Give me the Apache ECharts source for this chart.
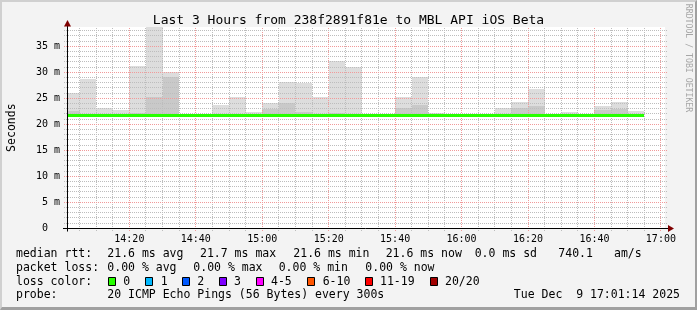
<!DOCTYPE html>
<html><head><meta charset="utf-8">
<script src="https://cdn.jsdelivr.net/npm/echarts@6/dist/echarts.min.js"></script>
<style>
html,body{margin:0;padding:0;background:#f3f3f3;}
#wrap{position:relative;width:697px;height:310px;}
#c{position:absolute;left:0;top:0;width:697px;height:310px;}
#frame{position:absolute;left:0;top:0;width:697px;height:310px;box-sizing:border-box;border-top:2px solid #d0d0d0;border-left:2px solid #d0d0d0;border-right:2px solid #a0a0a0;border-bottom:3px solid #a0a0a0;pointer-events:none;}
</style></head><body>
<div id="wrap"><div id="c"></div><div id="frame"></div></div>
<script>
// ---------------- data ----------------
const titleText = "Last 3 Hours from 238f2891f81e to MBL API iOS Beta";
const axisStart = "14:01:14";
const axisEnd = "17:01:14";
const stepMinutes = 5;
const barStart = ["14:00","14:05","14:10","14:15","14:20","14:25","14:30","14:35","14:40","14:45",
  "14:50","14:55","15:00","15:05","15:10","15:15","15:20","15:25","15:30","15:35",
  "15:40","15:45","15:50","15:55","16:00","16:05","16:10","16:15","16:20","16:25",
  "16:30","16:35","16:40","16:45","16:50"];
// smoke (ms): min, darker inner band top, max
const smokeMin = [21.4,21.4,21.4,21.4,21.4,21.4,21.4,21.4,21.4,21.4,
  21.4,21.4,21.4,21.4,21.4,21.4,21.4,21.4,21.4,21.4,
  21.4,21.4,21.4,21.4,21.4,21.4,21.4,21.4,21.4,21.4,
  21.4,21.4,21.4,21.4,21.4];
const smokeMid = [22.6,22.0,21.9,21.9,22.2,25.2,29.0,21.7,21.7,22.0,
  22.0,21.9,22.9,24.0,22.4,22.0,22.2,22.0,21.7,21.7,
  23.1,23.8,21.9,21.7,21.7,21.7,22.0,23.2,23.6,21.7,
  21.9,21.7,22.7,22.9,21.9];
const smokeMax = [26.0,28.7,23.1,22.75,31.2,38.65,30.0,21.8,21.8,23.7,
  25.25,22.3,24.0,28.1,28.0,25.25,32.2,31.0,21.8,21.8,
  25.25,29.1,22.2,21.8,21.8,21.8,23.2,24.3,26.85,21.8,
  22.3,21.8,23.5,24.35,22.55];
const medianRtt = [21.7,21.6,21.7,21.6,21.6,21.7,21.6,21.6,21.7,21.6,
  21.6,21.6,21.6,21.6,21.7,21.6,21.6,21.6,21.6,21.6,
  21.6,21.7,21.6,21.7,21.6,21.7,21.6,21.6,21.6,21.6,
  21.6,21.7,21.6,21.7,21.6];
const yMax = 38.7;
const yMajorStep = 5, yMinorStep = 1;
const xMajorTicks = ["14:20","14:40","15:00","15:20","15:40","16:00","16:20","16:40","17:00"];
const lossLabels = ["0","1","2","3","4-5","6-10","11-19","20/20"];
const lossColors = ["#26ff00","#00b8ff","#0059ff","#7e00ff","#ff00ff","#ff5500","#ff0000","#a10000"];
const rttStats = ["21.6 ms avg","21.7 ms max","21.6 ms min","21.6 ms now","0.0 ms sd","740.1","am/s"];
const lossStats = ["0.00 % avg","0.00 % max","0.00 % min","0.00 % now"];
const probeText = "20 ICMP Echo Pings (56 Bytes) every 300s";
const dateText = "Tue Dec  9 17:01:14 2025";
const rightText = "RRDTOOL / TOBI OETIKER";

// ---------------- helpers ----------------
const FONT = "DejaVu Sans Mono";
function toMin(s){const p=s.split(':').map(Number);return p[0]*60+p[1]+(p[2]||0)/60;}
function fmtHM(v){const m=Math.round(v);const h=Math.floor(m/60),mm=m%60;return h+':'+(mm<10?'0':'')+mm;}
const X_MIN = toMin(axisStart), X_MAX = toMin(axisEnd);
const majorVals = xMajorTicks.map(toMin);
const minorVals = [];
for (let t = Math.ceil(X_MIN/stepMinutes)*stepMinutes; t <= X_MAX; t += stepMinutes) minorVals.push(t);

const GRID = {left:67, top:27, width:598, height:201.3};
const MINOR = '#bdbdbd', MAJOR = '#f19a9a';

// vertical grid: [t, isMajor]; horizontal grid: [v, isMajor]
const vGrid = [], hGrid = [];
minorVals.forEach(t=>{ if (majorVals.indexOf(t)<0) vGrid.push([t, 0]); });
majorVals.forEach(t=>vGrid.push([t, 1]));
for (let v=yMinorStep; v<yMax; v+=yMinorStep){ if (v%yMajorStep!==0) hGrid.push([v, 0]); }
for (let v=yMajorStep; v<yMax; v+=yMajorStep) hGrid.push([v, 1]);

function vGridSeries(){
  return {
    type:'custom', name:'vgrid', z:4, clip:false, silent:true,
    encode:{x:0},
    renderItem:(params, api)=>{
      const t = api.value(0);
      const a = api.coord([t, 0]);
      const b = api.coord([t, yMax]);
      const x = Math.floor(a[0]) + 0.5;
      return {type:'polyline', shape:{points:[[x, Math.round(a[1])+3],[x, Math.round(b[1])]]},
        style:{stroke: api.value(1)===1?MAJOR:MINOR, lineWidth:1, lineDash:[1,1], fill:null}};
    },
    data: vGrid
  };
}
function hGridSeries(){
  return {
    type:'custom', name:'hgrid', z:4, clip:false, silent:true,
    encode:{y:0},
    renderItem:(params, api)=>{
      const v = api.value(0);
      const a = api.coord([X_MIN, v]);
      const b = api.coord([X_MAX, v]);
      const y = Math.floor(a[1]) + 0.5;
      return {type:'polyline', shape:{points:[[Math.round(a[0])-3, y],[Math.round(b[0])+3, y]]},
        style:{stroke: api.value(1)===1?MAJOR:MINOR, lineWidth:1, lineDash:[1,1], fill:null}};
    },
    data: hGrid
  };
}

function bandSeries(name, lo, hi, color, z){
  return {
    type:'custom', name, z, clip:true, silent:true,
    renderItem:(params, api)=>{
      const a = api.coord([api.value(0), api.value(3)]);
      const b = api.coord([api.value(1), api.value(2)]);
      const cs = params.coordSys;
      const x0=Math.round(a[0]), x1=Math.round(b[0]), y0=Math.round(a[1]), y1=Math.round(b[1]);
      const r = echarts.graphic.clipRectByRect({x:x0,y:y0,width:x1-x0,height:y1-y0},
        {x:cs.x,y:cs.y,width:cs.width,height:cs.height});
      if (!r) return null;
      return {type:'rect', shape:r, style:{fill:color}};
    },
    data: barStart.map((s,i)=>[toMin(s), toMin(s)+stepMinutes, lo[i], hi[i]])
  };
}
function medianSeries(){
  return {
    type:'custom', name:'median', z:10, clip:true, silent:true,
    renderItem:(params, api)=>{
      const a = api.coord([api.value(0), api.value(2)]);
      const b = api.coord([api.value(1), api.value(2)]);
      const cs = params.coordSys;
      const x0=Math.round(a[0]), x1=Math.round(b[0]), y0=Math.round(a[1]-1.5);
      const r = echarts.graphic.clipRectByRect({x:x0,y:y0,width:x1-x0,height:3},
        {x:cs.x,y:cs.y,width:cs.width,height:cs.height});
      if (!r) return null;
      return {type:'rect', shape:r, style:{fill:lossColors[0]}};
    },
    data: barStart.map((s,i)=>[toMin(s), toMin(s)+stepMinutes, medianRtt[i]])
  };
}

// ---------------- graphics ----------------
const g = [];
const AX = GRID.left + 0.5, AY = Math.round(GRID.top + GRID.height) + 0.5;
g.push({type:'line', z:20, shape:{x1:AX, y1:AY+3, x2:AX, y2:22}, style:{stroke:'#000', lineWidth:1}});
g.push({type:'line', z:20, shape:{x1:GRID.left-4, y1:AY, x2:GRID.left+GRID.width+3, y2:AY}, style:{stroke:'#000', lineWidth:1}});
g.push({type:'polygon', z:21, shape:{points:[[AX-3.5,26.5],[AX+3.5,26.5],[AX,20]]}, style:{fill:'#7f0000'}});
const XE = GRID.left+GRID.width+3;
g.push({type:'polygon', z:21, shape:{points:[[XE,AY-3.5],[XE,AY+3.5],[XE+6,AY]]}, style:{fill:'#7f0000'}});
g.push({type:'text', z:20, x:688, y:58, rotation:-Math.PI/2,
  style:{text:rightText, font:'8.2px "'+FONT+'"', fill:'#a6a6a6', align:'center', verticalAlign:'middle'}});
function txt(x,y,s,align){ g.push({type:'text', z:20, x, y, style:{text:s, font:'11.5px "'+FONT+'"', fill:'#000', align:align||'left', verticalAlign:'middle'}}); }
const L1=254.3, L2=267.8, L3=281.6, L4=295.3;
txt(16,L1,"median rtt:");
[107.3,200,293.3,385.7,474.7,558.3,614].forEach((x,i)=>txt(x,L1,rttStats[i]));
txt(16,L2,"packet loss:");
[107.3,193.3,278.7,365.3].forEach((x,i)=>txt(x,L2,lossStats[i]));
txt(16,L3,"loss color:");
const boxX=[108.5,145.5,182.5,219.5,256.5,307.5,365.5,430.5];
const labX=[123.3,160.7,197.3,234,271,322.7,380,445];
lossLabels.forEach((l,i)=>{
  g.push({type:'rect', z:20, shape:{x:boxX[i], y:277.5, width:7, height:8}, style:{fill:lossColors[i], stroke:'#000', lineWidth:1}});
  txt(labX[i], L3, l);
});
txt(16,L4,"probe:");
txt(107.3,L4,probeText);
txt(680,L4,dateText,'right');

// ---------------- chart ----------------
const chart = echarts.init(document.getElementById('c'), null, {renderer:'canvas'});
chart.setOption({
  animation:false,
  backgroundColor:'#f3f3f3',
  title:{text:titleText, left:'center', top:9, textStyle:{fontFamily:FONT, fontSize:13, fontWeight:'normal', color:'#000'}},
  grid:{left:GRID.left, top:GRID.top, width:GRID.width, height:GRID.height, show:true, backgroundColor:'#ffffff', borderWidth:0,
        containLabel:false, outerBoundsMode:'none'},
  xAxis:[
    {type:'value', min:X_MIN, max:X_MAX, position:'bottom', z:5,
     axisLine:{show:false},
     axisTick:{show:false},
     axisLabel:{show:true, customValues:majorVals, formatter:v=>fmtHM(v), fontFamily:FONT, fontSize:10, color:'#000', margin:6},
     splitLine:{show:false}}
  ],
  yAxis:[
    {type:'value', min:0, max:yMax, interval:yMajorStep, position:'left', z:6,
     axisLine:{show:false},
     axisTick:{show:false},
     axisLabel:{formatter:v=>(v%yMajorStep!==0?'':(v===0?'0  ':v+' m')), fontFamily:FONT, fontSize:10, color:'#000', margin:7, showMaxLabel:false},
     splitLine:{show:false},
     name:'Seconds', nameLocation:'middle', nameGap:49,
     nameTextStyle:{fontFamily:FONT, fontSize:11.5, color:'#000'}}
  ],
  series:[
    bandSeries('smoke', smokeMin, smokeMax, '#dddddd', 2),
    bandSeries('smoke inner', smokeMin, smokeMid, '#c9c9c9', 3),
    vGridSeries(),
    hGridSeries(),
    medianSeries()
  ],
  graphic:g
});
</script>
</body></html>
